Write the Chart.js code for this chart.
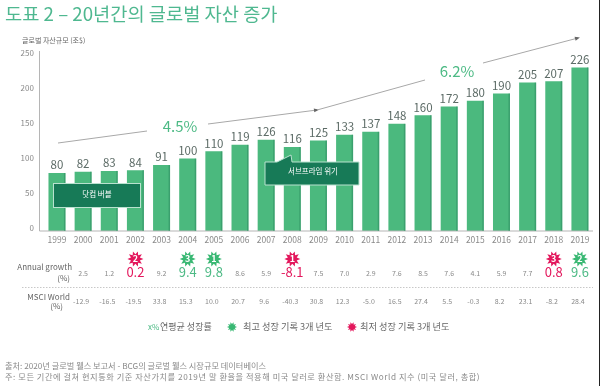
<!DOCTYPE html>
<html>
<head>
<meta charset="utf-8">
<style>
html, body { margin: 0; padding: 0; background: #fff; }
#wrap { position: relative; width: 600px; height: 386px; }
</style>
<script src="https://cdn.jsdelivr.net/npm/chart.js@4"></script>
</head>
<body>
<div id="wrap"><canvas id="myChart" width="600" height="386"></canvas></div>
<script>
const years = ['1999','2000','2001','2002','2003','2004','2005','2006','2007','2008','2009','2010','2011','2012','2013','2014','2015','2016','2017','2018','2019'];
const wealth = [80,82,83,84,91,100,110,119,126,116,125,133,137,148,160,172,180,190,205,207,226];
const yTicks = [0,50,100,150,200,250];
// the first year has no growth figure
const growth = [null,'2.5','1.2','0.2','9.2','9.4','9.8','8.6','5.9','-8.1','7.5','7.0','2.9','7.6','8.5','7.6','4.1','5.9','7.7','0.8','9.6'];
const msci = [null,'-12.9','-16.5','-19.5','33.8','15.3','10.0','20.7','9.6','-40.3','30.8','12.3','-5.0','16.5','27.4','5.5','-0.3','8.2','23.1','-8.2','28.4'];
// rank of the best and worst growth years
const bestYears = { '2004': 3, '2005': 1, '2019': 2 };
const worstYears = { '2002': 2, '2008': 1, '2018': 3 };

const KR = '"Noto Sans CJK KR", "Noto Sans", sans-serif';
const GREEN = '#4bb97e';
const TEXT_GREEN = '#4dba85';
const RED = '#e3175c';
const GRAY = '#8a8a8a';
const BOX = '#177a57';

function text(ctx, str, x, y, font, color, align) {
    ctx.font = font;
    ctx.fillStyle = color;
    ctx.textAlign = align || 'center';
    ctx.textBaseline = 'middle';
    ctx.fillText(str, x, y);
}

function star(ctx, x, y, color, rank, size) {
    const R = size || 8;
    ctx.beginPath();
    for (let i = 0; i < 20; i++) {
        const r = i % 2 ? R * 0.58 : R;
        const a = i * Math.PI / 10;
        ctx.lineTo(x + r * Math.cos(a), y + r * Math.sin(a));
    }
    ctx.closePath();
    ctx.fillStyle = color;
    ctx.fill();
    if (rank) text(ctx, String(rank), x, y, 'bold 9px ' + KR, '#fff');
}

function arrowLine(ctx, x1, y1, x2, y2, head) {
    ctx.strokeStyle = '#a8a8a8';
    ctx.lineWidth = 1;
    ctx.beginPath();
    ctx.moveTo(x1, y1);
    ctx.lineTo(x2, y2);
    ctx.stroke();
    if (head) {
        const a = Math.atan2(y2 - y1, x2 - x1);
        ctx.fillStyle = '#666';
        ctx.beginPath();
        ctx.moveTo(x2 + 2 * Math.cos(a), y2 + 2 * Math.sin(a));
        ctx.lineTo(x2 - 3 * Math.cos(a) - 2 * Math.sin(a), y2 - 3 * Math.sin(a) + 2 * Math.cos(a));
        ctx.lineTo(x2 - 3 * Math.cos(a) + 2 * Math.sin(a), y2 - 3 * Math.sin(a) - 2 * Math.cos(a));
        ctx.fill();
    }
}

// value labels, growth table, callouts and footer
const extras = {
    id: 'extras',
    afterDatasetsDraw(chart) {
        const ctx = chart.ctx;
        const xs = chart.scales.x;
        ctx.save();

        // axis lines
        ctx.strokeStyle = '#b5b5b5';
        ctx.lineWidth = 1;
        ctx.beginPath();
        ctx.moveTo(39.5, 51);
        ctx.lineTo(39.5, 231);
        ctx.lineTo(593, 231);
        ctx.stroke();

        chart.getDatasetMeta(0).data.forEach((bar, i) => {
            // darker right edge of each bar
            ctx.fillStyle = 'rgba(40, 130, 90, 0.45)';
            ctx.fillRect(bar.x + bar.width / 2 - 1.5, bar.y, 1.5, bar.base - bar.y);
            text(ctx, String(wealth[i]), bar.x, bar.y - 8, '11.5px ' + KR, '#5c6b66');
        });

        // title and axis title
        text(ctx, '도표 2 – 20년간의 글로벌 자산 증가', 5, 14, '18.7px ' + KR, '#4fb890', 'left');
        text(ctx, '글로벌 자산규모 (조$)', 22, 40, '7px ' + KR, '#666', 'left');

        // trend lines
        arrowLine(ctx, 58, 143, 147, 131);
        arrowLine(ctx, 208, 124, 317, 110, true);
        arrowLine(ctx, 317, 110, 425, 80);
        arrowLine(ctx, 483, 63, 578, 38, true);
        text(ctx, '4.5%', 180, 126, '15px ' + KR, TEXT_GREEN);
        text(ctx, '6.2%', 457, 71, '15px ' + KR, TEXT_GREEN);

        // callout boxes
        ctx.fillStyle = BOX;
        ctx.strokeStyle = '#b9e2cf';
        ctx.lineWidth = 1;
        ctx.fillRect(53.5, 183.5, 87, 24);
        ctx.strokeRect(53.5, 183.5, 87, 24);
        text(ctx, '닷컴 버블', 97, 194.5, '7.5px ' + KR, '#fff');
        ctx.fillStyle = BOX;
        ctx.beginPath();
        ctx.moveTo(265, 162);
        ctx.lineTo(277, 162);
        ctx.lineTo(291, 155);
        ctx.lineTo(292, 162);
        ctx.lineTo(359, 162);
        ctx.lineTo(359, 185);
        ctx.lineTo(265, 185);
        ctx.closePath();
        ctx.fill();
        ctx.stroke();
        text(ctx, '서브프라임 위기', 313, 171, '7.5px ' + KR, '#fff');

        // growth rows
        text(ctx, 'Annual growth', 72, 267, '8px ' + KR, '#666', 'right');
        text(ctx, '(%)', 70, 278, '8px ' + KR, '#666', 'right');
        text(ctx, 'MSCI World', 70, 297, '8px ' + KR, '#666', 'right');
        text(ctx, '(%)', 63, 306, '8px ' + KR, '#666', 'right');
        years.forEach((y, i) => {
            const x = xs.getPixelForValue(i);
            if (growth[i] !== null) {
                if (bestYears[y]) {
                    text(ctx, growth[i], x, 272, '13px ' + KR, TEXT_GREEN);
                    star(ctx, x, 259, '#39b873', bestYears[y]);
                } else if (worstYears[y]) {
                    text(ctx, growth[i], x, 272, '13px ' + KR, RED);
                    star(ctx, x, 259, RED, worstYears[y]);
                } else {
                    text(ctx, growth[i], x, 273, '7px ' + KR, GRAY);
                }
            }
            if (msci[i] !== null) text(ctx, msci[i], x - 2, 301.5, '7px ' + KR, GRAY);
        });
        ctx.strokeStyle = '#c8c8c8';
        ctx.setLineDash([1.5, 1.5]);
        ctx.beginPath();
        ctx.moveTo(22, 287.5);
        ctx.lineTo(593, 287.5);
        ctx.stroke();
        ctx.setLineDash([]);

        // legend
        text(ctx, 'x%', 148, 327, '8px ' + KR, TEXT_GREEN, 'left');
        text(ctx, '연평균 성장률', 160, 327, '9px ' + KR, '#666', 'left');
        star(ctx, 232, 327, '#39b873', null, 5);
        text(ctx, '최고 성장 기록 3개 년도', 243, 327, '9.2px ' + KR, '#666', 'left');
        star(ctx, 352, 327, RED, null, 5);
        text(ctx, '최저 성장 기록 3개 년도', 360, 327, '9.2px ' + KR, '#666', 'left');

        // footer
        text(ctx, '출처: 2020년 글로벌 웰스 보고서 - BCG의 글로벌 웰스 시장규모 데이터베이스', 5, 366, '8.2px ' + KR, '#8a8a8a', 'left');
        ctx.letterSpacing = '0.55px';
        text(ctx, '주: 모든 기간에 걸쳐 현지통화 기준 자산가치를 2019년 말 환율을 적용해 미국 달러로 환산함. MSCI World 지수 (미국 달러, 총합)', 5, 377, '8.2px ' + KR, '#8a8a8a', 'left');
        ctx.letterSpacing = '0px';

        // dark edge on the right of the source image
        ctx.fillStyle = '#222';
        ctx.fillRect(599, 0, 1, 386);

        ctx.restore();
    }
};

new Chart(document.getElementById('myChart').getContext('2d'), {
    type: 'bar',
    data: {
        labels: years,
        datasets: [{
            data: wealth,
            backgroundColor: GREEN,
            barPercentage: 0.65,
            categoryPercentage: 1
        }]
    },
    options: {
        responsive: false,
        animation: false,
        layout: { padding: { top: 50, right: 7, bottom: 0, left: 0 } },
        plugins: { legend: { display: false }, tooltip: { enabled: false }, title: { display: false } },
        scales: {
            x: {
                grid: { display: false, drawTicks: false },
                border: { display: false },
                ticks: { color: GRAY, font: { family: KR, size: 8.5 }, padding: 4, maxRotation: 0, autoSkip: false },
                afterFit(scale) { scale.height = 155; }
            },
            y: { display: false, min: 0, max: 250 },
            // printed tick labels sit a little off the bar scale in the source
            yLabels: {
                position: 'left',
                min: -4.3,
                max: 254.3,
                grid: { display: false, drawTicks: false },
                border: { display: false },
                ticks: { color: GRAY, font: { family: KR, size: 8 }, padding: 10 },
                afterBuildTicks(scale) { scale.ticks = yTicks.map(v => ({ value: v })); },
                afterFit(scale) { scale.width = 43.9; }
            }
        }
    },
    plugins: [extras]
});
</script>
</body>
</html>
